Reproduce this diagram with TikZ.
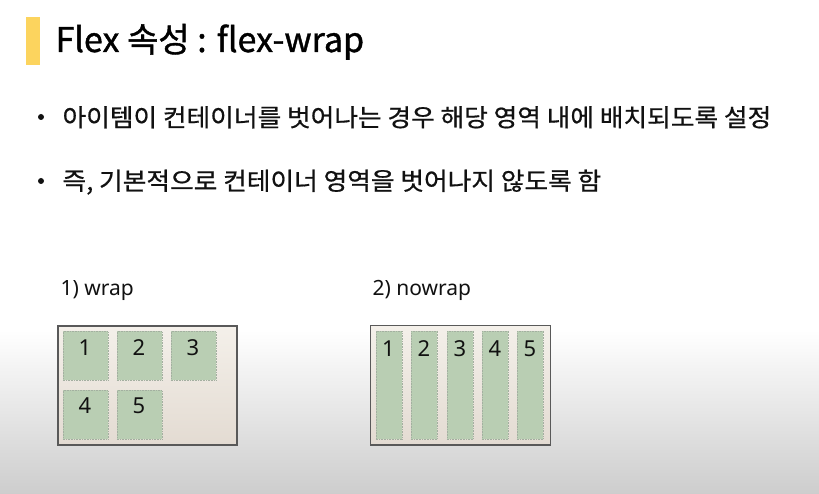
\documentclass[tikz,border=0pt]{standalone}
\usepackage{fontspec}
\setmainfont{Noto Sans CJK KR}
\newfontfamily\numfont{Noto Sans}
\newfontfamily\titlefont[FakeBold=1.2]{Noto Sans CJK KR}
\newfontfamily\bodyfont[FakeBold=0.7,FakeStretch=1.05]{Noto Sans CJK KR}
\definecolor{barcolor}{HTML}{FCD45E}
\definecolor{boxline}{HTML}{595959}
\definecolor{boxtop}{HTML}{F4F0EA}
\definecolor{boxbot}{HTML}{E3DBD2}
\definecolor{itemfill}{HTML}{B9CEB3}
\definecolor{itemline}{HTML}{A3AFA0}
\definecolor{bgbot}{HTML}{CDCDCD}
\definecolor{inktext}{HTML}{111111}
\begin{document}
\begin{tikzpicture}[x=1pt,y=-1pt,
    flexbox/.style={draw=boxline,line width=1.5pt,top color=boxtop,bottom color=boxbot,
      anchor=north west,inner sep=0pt},
    flexitem/.style={draw=itemline,densely dotted,line width=0.6pt,fill=itemfill,
      anchor=north west,inner sep=0pt},
    itemnum/.style={anchor=base,text=inktext,font=\numfont\fontsize{22}{26}\selectfont},
    caption node/.style={anchor=base west,text=inktext,font=\numfont\fontsize{21}{25}\selectfont},
    bullet node/.style={circle,fill=inktext,inner sep=0pt,minimum size=6pt},
    bullet text/.style={anchor=base west,text=inktext,font=\bodyfont\fontsize{24.5}{28}\selectfont} ]
    % slide background
    \fill[white] (0,0) rectangle (819,494);
    \shade[top color=white,bottom color=bgbot] (0,330) rectangle (819,494);
    \useasboundingbox (0,0) rectangle (819,494);
    % title
    \node at (26,17) [fill=barcolor,anchor=north west,inner sep=0pt,minimum width=14,minimum height=48] (bar) {};
    \node at (52,52) [anchor=base west,text=black,font=\titlefont\fontsize{34}{40}\selectfont] (title) {Flex 속성 : flex-wrap};
    % bullets
    \node at (41,117) [bullet node] (dot1) {};
    \node at (59,126.5) [bullet text] (line1) {아이템이 컨테이너를 벗어나는 경우 해당 영역 내에 배치되도록 설정};
    \node at (41,181) [bullet node] (dot2) {};
    \node at (59,190) [bullet text] (line2) {즉, 기본적으로 컨테이너 영역을 벗어나지 않도록 함};
    % 1) wrap
    \node at (57,295) [caption node] (capwrap) {1) wrap};
    \node at (57,325) [flexbox,minimum width=179,minimum height=119] (wrapbox) {};
    \node at (62.5,331) [flexitem,minimum width=45,minimum height=49] (w1) {};
    \node at (116.5,331) [flexitem,minimum width=45,minimum height=49] (w2) {};
    \node at (170.5,331) [flexitem,minimum width=45,minimum height=49] (w3) {};
    \node at (62.5,390) [flexitem,minimum width=45,minimum height=49] (w4) {};
    \node at (116.5,390) [flexitem,minimum width=45,minimum height=49] (w5) {};
    \node at (85,355.7) [itemnum] (wn1) {1};
    \node at (139,355.7) [itemnum] (wn2) {2};
    \node at (193,355.7) [itemnum] (wn3) {3};
    \node at (85,413.5) [itemnum] (wn4) {4};
    \node at (139,413.5) [itemnum] (wn5) {5};
    % 2) nowrap
    \node at (369,295) [caption node] (capnowrap) {2) nowrap};
    \node at (369.5,324.5) [flexbox,minimum width=180,minimum height=119.5] (nowrapbox) {};
    \node at (375.5,330.5) [flexitem,minimum width=26,minimum height=108] (n1) {};
    \node at (410.5,330.5) [flexitem,minimum width=26.5,minimum height=108] (n2) {};
    \node at (446.5,330.5) [flexitem,minimum width=26.5,minimum height=108] (n3) {};
    \node at (481.5,330.5) [flexitem,minimum width=26.5,minimum height=108] (n4) {};
    \node at (516.5,330.5) [flexitem,minimum width=26.5,minimum height=108] (n5) {};
    \node at (388.5,356) [itemnum] (nn1) {1};
    \node at (423.8,356) [itemnum] (nn2) {2};
    \node at (459.8,356) [itemnum] (nn3) {3};
    \node at (494.8,356) [itemnum] (nn4) {4};
    \node at (529.8,356) [itemnum] (nn5) {5};
\end{tikzpicture}
\end{document}
